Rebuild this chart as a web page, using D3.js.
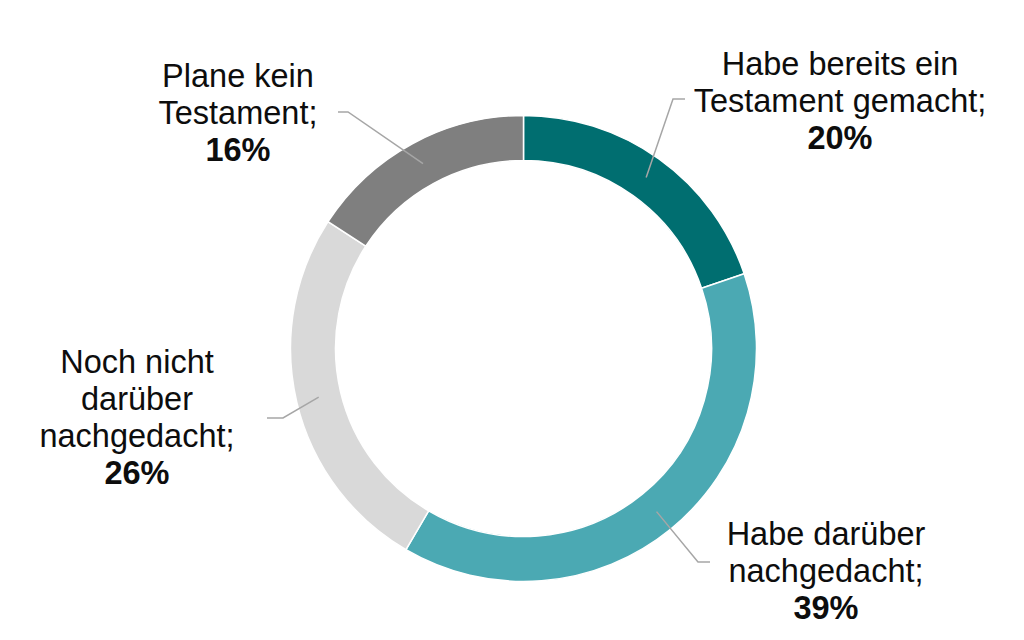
<!DOCTYPE html>
<html><head><meta charset="utf-8">
<script src="https://cdn.jsdelivr.net/npm/d3@7"></script>
<style>
html,body{margin:0;padding:0;background:#fff;}
svg{display:block;font-family:"Liberation Sans",Arial,sans-serif;}
</style></head>
<body>
<svg id="chart" width="1024" height="640"></svg>
<script>
// Data
const categories = [
  "Habe bereits ein Testament gemacht",
  "Habe darüber nachgedacht",
  "Noch nicht darüber nachgedacht",
  "Plane kein Testament"
];
const values = [20, 39, 26, 16];
const labelLines = [
  ["Habe bereits ein", "Testament gemacht;"],
  ["Habe darüber", "nachgedacht;"],
  ["Noch nicht", "darüber", "nachgedacht;"],
  ["Plane kein", "Testament;"]
];
const colors = ["#006E70", "#4BA9B3", "#D9D9D9", "#7F7F7F"];

// Layout (positions for labels and leader elbows)
const cx = 523.5, cy = 348.5, rOuter = 233, rInner = 188;
const labelLayout = [
  {x: 840, y: 75,  elbow: [673, 99],  end: [685, 99]},
  {x: 826, y: 545, elbow: [698, 562], end: [710, 562]},
  {x: 137, y: 373, elbow: [283, 418], end: [267, 418]},
  {x: 238, y: 87,  elbow: [348, 112], end: [338, 112]}
];
const lineH = 37;

const svg = d3.select("#chart");
const g = svg.append("g").attr("transform", `translate(${cx},${cy})`);

const pie = d3.pie().value(d => d).sort(null);
const arcs = pie(values);
const arc = d3.arc().innerRadius(rInner).outerRadius(rOuter);

g.selectAll("path.slice").data(arcs).enter().append("path")
  .attr("class", "slice")
  .attr("d", arc)
  .attr("fill", (d, i) => colors[i])
  .attr("stroke", "#fff")
  .attr("stroke-width", 1.5);

// Leader lines
svg.selectAll("polyline.leader").data(arcs).enter().append("polyline")
  .attr("class", "leader")
  .attr("points", (d, i) => {
    const c = arc.centroid(d);
    const L = labelLayout[i];
    return [[c[0] + cx, c[1] + cy], L.elbow, L.end].map(p => p.join(",")).join(" ");
  })
  .attr("fill", "none")
  .attr("stroke", "#A6A6A6")
  .attr("stroke-width", 1.5);

// Labels
arcs.forEach((d, i) => {
  const L = labelLayout[i];
  const t = svg.append("text")
    .attr("x", L.x).attr("y", L.y)
    .attr("text-anchor", "middle")
    .attr("font-size", 32.5)
    .attr("fill", "#0d0d0d");
  labelLines[i].forEach((line, k) => {
    t.append("tspan").attr("x", L.x).attr("y", L.y + k * lineH).text(line);
  });
  t.append("tspan").attr("x", L.x).attr("y", L.y + labelLines[i].length * lineH)
    .attr("font-weight", "bold").text(values[i] + "%");
});
</script>
</body></html>
